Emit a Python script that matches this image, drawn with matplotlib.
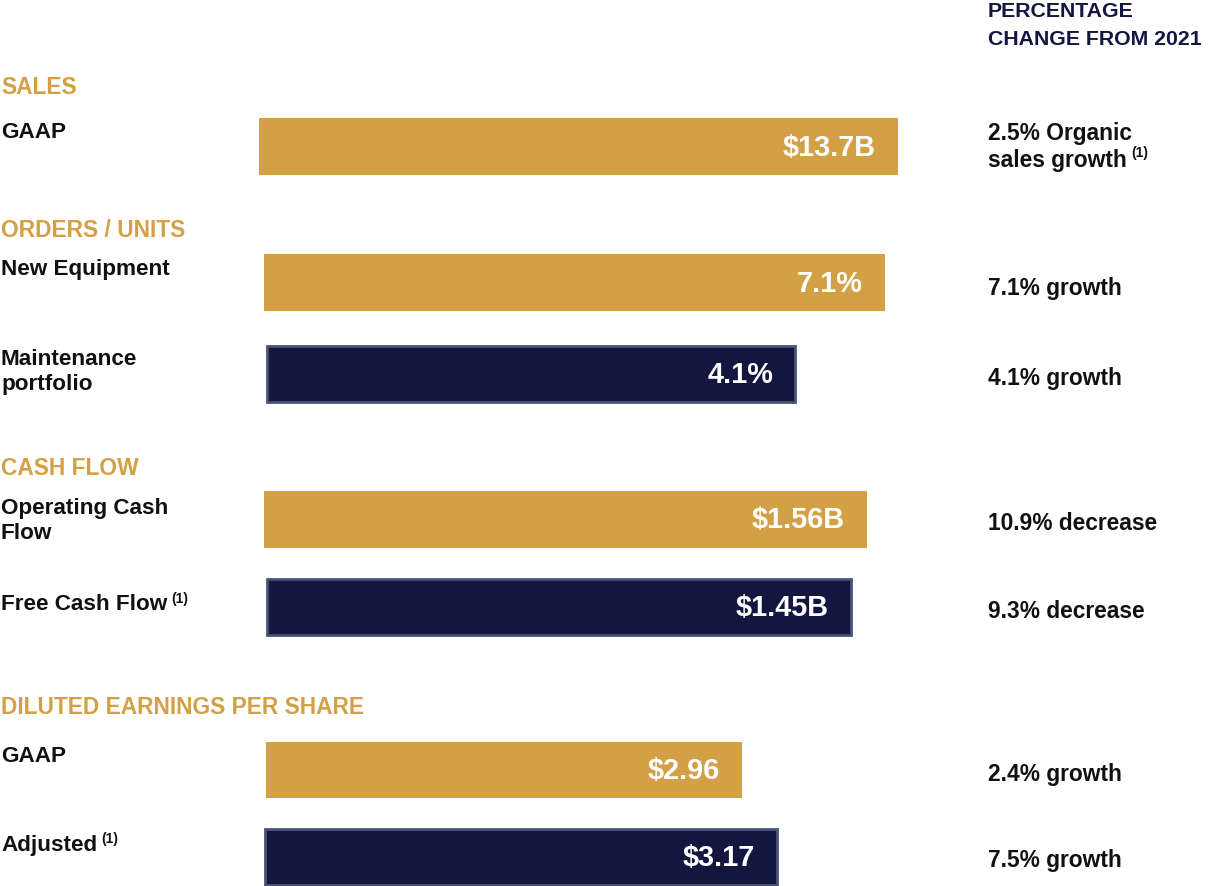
import matplotlib.pyplot as plt
from matplotlib.patches import Rectangle

plt.rcParams["font.family"] = ["Liberation Sans", "DejaVu Sans"]
plt.rcParams["font.weight"] = "bold"

gold = "#D4A046"
navy = "#13163F"
navy_edge = "#4B5275"

# secoes
secoes = ["SALES", "ORDERS / UNITS", "CASH FLOW", "DILUTED EARNINGS PER SHARE"]
secoes_y = [87, 230, 468, 708]

# linhas do grafico
rotulos = ["GAAP", "New Equipment", "Maintenance\nportfolio", "Operating Cash\nFlow",
           "Free Cash Flow", "GAAP", "Adjusted"]
rotulos_nota = [False, False, False, False, True, False, True]
rotulos_y = [132, 269, 372, 521, 605, 756, 845]
valores = ["$13.7B", "7.1%", "4.1%", "$1.56B", "$1.45B", "$2.96", "$3.17"]
barra_inicio = [259, 264, 267, 264, 267, 266, 265]
barra_fim = [898, 885, 795, 867, 851, 742, 777]
barra_topo = [118, 254, 346, 491, 579, 742, 829]
barra_base = [175, 311, 402, 548, 635, 798, 885]
barra_escura = [False, False, True, False, True, False, True]

variacao = ["2.5% Organic", "7.1% growth", "4.1% growth", "10.9% decrease",
            "9.3% decrease", "2.4% growth", "7.5% growth"]
variacao_y = [133, 288, 378, 524, 612, 774, 861]

fig = plt.figure(figsize=(12.1, 8.86), dpi=100)
ax = fig.add_axes([0, 0, 1, 1])
ax.set_xlim(0, 1210)
ax.set_ylim(886, 0)
ax.axis("off")

fig.canvas.draw()
renderer = fig.canvas.get_renderer()


def nota(texto_obj, dx=4, dy=4):
    bb = texto_obj.get_window_extent(renderer)
    x1, y1 = ax.transData.inverted().transform((bb.x1, bb.y1))
    ax.text(x1 + dx, y1 - dy, "(1)", fontsize=10, ha="left", va="top", color="#111111")


ax.text(988, 11, "PERCENTAGE", fontsize=15.3, color=navy, va="center", ha="left")
ax.text(988, 39, "CHANGE FROM 2021", fontsize=15.3, color=navy, va="center", ha="left")

for s, y in zip(secoes, secoes_y):
    ax.text(1, y, s, fontsize=16.4, color=gold, va="center", ha="left")

for i in range(len(rotulos)):
    t = ax.text(1, rotulos_y[i], rotulos[i], fontsize=16.2, color="#111111",
                va="center", ha="left", linespacing=1.28)
    if rotulos_nota[i]:
        nota(t, dy=2)

    if barra_escura[i]:
        cor, borda, lw = navy, navy_edge, 2
    else:
        cor, borda, lw = gold, gold, 0
    ax.add_patch(Rectangle((barra_inicio[i], barra_topo[i]), barra_fim[i] - barra_inicio[i],
                           barra_base[i] - barra_topo[i], facecolor=cor, edgecolor=borda, linewidth=lw))
    ax.text(barra_fim[i] - 22, (barra_topo[i] + barra_base[i]) / 2 + 1, valores[i],
            fontsize=20.8, color="white", va="center", ha="right")

    ax.text(988, variacao_y[i], variacao[i], fontsize=16.4, color="#111111",
            va="center", ha="left")

t = ax.text(988, 160, "sales growth", fontsize=16.4, color="#111111", va="center", ha="left")
nota(t, dy=3)

plt.savefig("out.png", dpi=100)
